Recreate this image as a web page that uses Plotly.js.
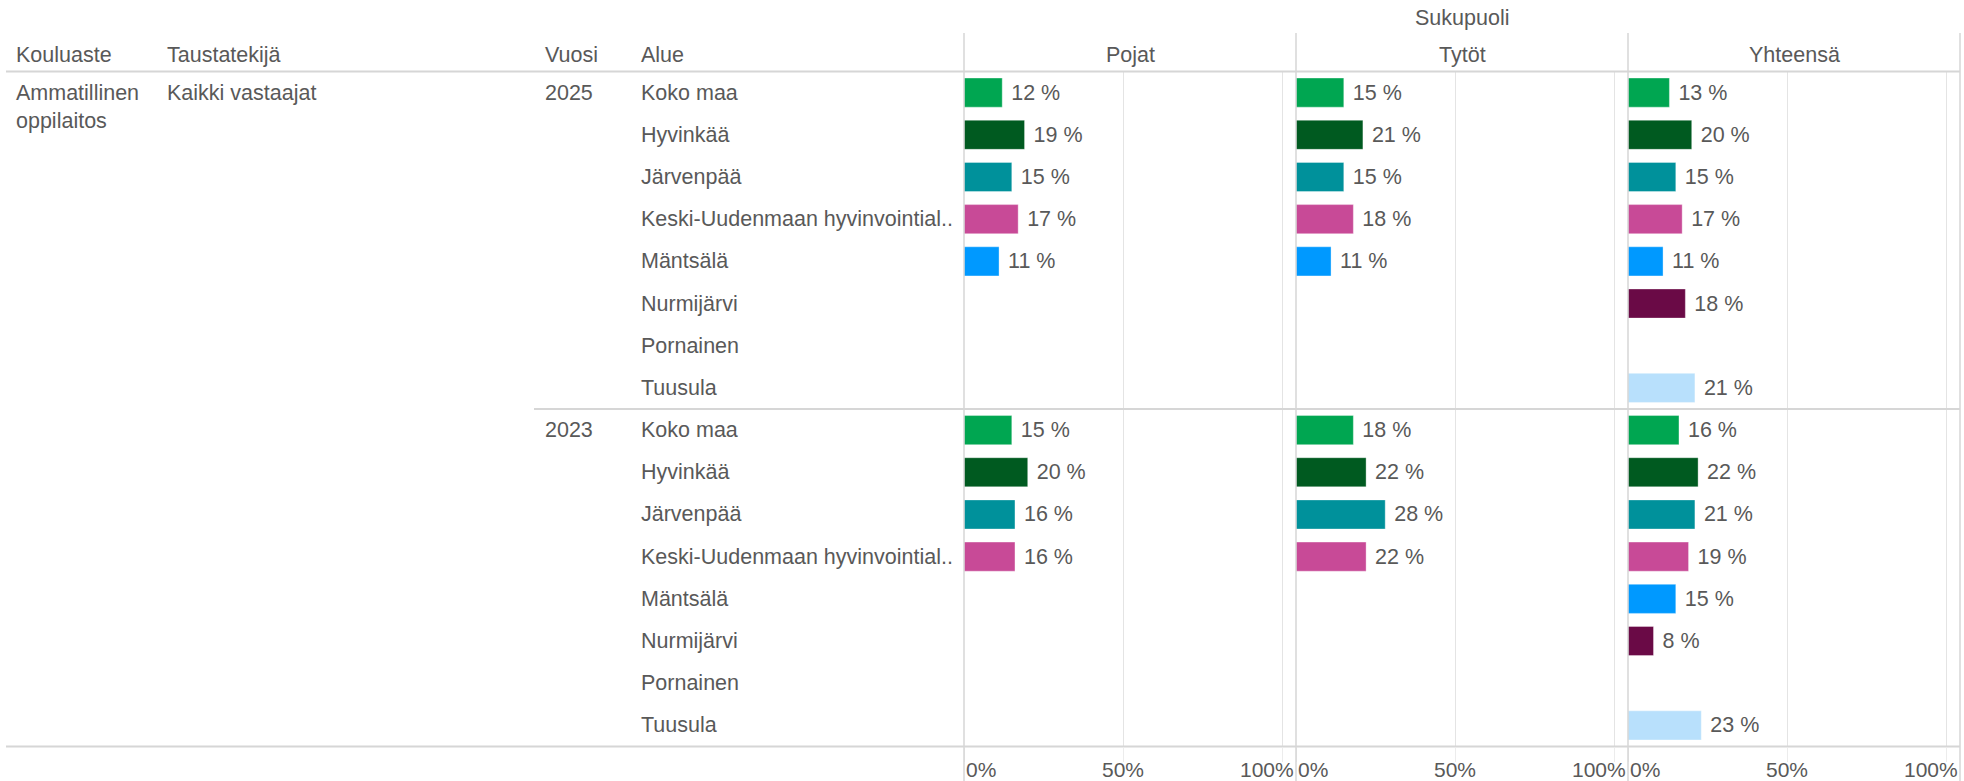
<!DOCTYPE html>
<html lang="fi">
<head>
    <meta charset="UTF-8">
    <title>Sukupuoli - Ammatillinen oppilaitos</title>
    <script src="https://cdn.plot.ly/plotly-3.0.1.min.js"></script>
    <style>
        body { margin: 0; padding: 0; background: #fff; }
        #plot { width: 1964px; height: 781px; }
    </style>
</head>
<body>
    <div id="plot"></div>
    <script>
        // Data
        const areas = ['Koko maa', 'Hyvinkää', 'Järvenpää', 'Keski-Uudenmaan hyvinvointial..',
                       'Mäntsälä', 'Nurmijärvi', 'Pornainen', 'Tuusula'];
        const years = ['2025', '2023'];
        const genders = ['Pojat', 'Tytöt', 'Yhteensä'];
        const areaColors = ['#00a651', '#005a20', '#00919b', '#c84a97',
                            '#0099ff', '#6a0a46', '#999999', '#b8e0fc'];

        const pojat2025 = [12, 19, 15, 17, 11, null, null, null];
        const tytot2025 = [15, 21, 15, 18, 11, null, null, null];
        const yht2025   = [13, 20, 15, 17, 11, 18, null, 21];
        const pojat2023 = [15, 20, 16, 16, null, null, null, null];
        const tytot2023 = [18, 22, 28, 22, null, null, null, null];
        const yht2023   = [16, 22, 21, 19, 15, 8, null, 23];

        const tickVals = [0, 0.5, 1];
        const tickLabels = ['0%', '50%', '100%'];

        // Layout helpers (pixel -> paper)
        const W = 1964, H = 781;
        const px = v => v / W;
        const py = v => 1 - v / H;
        const txt = '#595959';
        const fontFam = '"Liberation Sans", Arial, sans-serif';
        const fs = 21.5;
        const xMax = 1.042;
        const panelEdges = [964, 1296, 1628, 1960];

        const seriesByGender = [
            pojat2025.concat(pojat2023),
            tytot2025.concat(tytot2023),
            yht2025.concat(yht2023)
        ];
        const rowIdx = [];
        for (let i = 0; i < years.length * areas.length; i++) rowIdx.push(i);
        const rowColors = areaColors.concat(areaColors);

        const axisNames = ['x', 'x2', 'x3'];
        const data = seriesByGender.map((vals, g) => ({
            type: 'bar',
            orientation: 'h',
            xaxis: axisNames[g],
            yaxis: 'y',
            y: rowIdx,
            x: vals.map(v => v == null ? null : v / 100),
            width: 0.69,
            marker: { color: rowColors, line: { color: 'rgba(255,255,255,0.35)', width: 1 } },
            // nbsp keeps the small gap between bar end and label
            text: vals.map(v => v == null ? '' : '\u00a0' + v + ' %'),
            textposition: 'outside',
            constraintext: 'none',
            cliponaxis: false,
            textfont: { family: fontFam, size: fs, color: txt },
            hoverinfo: 'skip',
            showlegend: false
        }));

        const xAxisBase = (g) => ({
            domain: [px(panelEdges[g]), px(panelEdges[g + 1])],
            range: [0, xMax],
            anchor: 'y',
            tickvals: tickVals,
            showticklabels: false,
            ticks: 'outside',
            ticklen: 14,
            tickcolor: '#ececec',
            showgrid: true,
            gridcolor: '#e4e4e4',
            gridwidth: 1,
            zeroline: false,
            showline: false,
            fixedrange: true
        });

        const annotations = [];
        const ann = (o) => annotations.push(Object.assign({
            showarrow: false,
            font: { family: fontFam, size: fs, color: txt },
            yanchor: 'middle'
        }, o));

        // Header
        ann({ text: 'Sukupuoli', xref: 'paper', yref: 'paper', x: px(1462), y: py(18), xanchor: 'center' });
        genders.forEach((g, i) => ann({
            text: g, xref: 'paper', yref: 'paper',
            x: px((panelEdges[i] + panelEdges[i + 1]) / 2), y: py(55), xanchor: 'center'
        }));
        const headCols = [['Kouluaste', 14], ['Taustatekijä', 165], ['Vuosi', 543], ['Alue', 639]];
        headCols.forEach(h => ann({ text: h[0], xref: 'paper', yref: 'paper', x: px(h[1]), y: py(55), xanchor: 'left' }));

        // Row labels
        ann({ text: 'Ammatillinen<br>oppilaitos', xref: 'paper', yref: 'y', x: px(14), y: 0,
              xanchor: 'left', yshift: -14, align: 'left' });
        ann({ text: 'Kaikki vastaajat', xref: 'paper', yref: 'y', x: px(165), y: 0, xanchor: 'left' });
        years.forEach((yr, k) => {
            ann({ text: yr, xref: 'paper', yref: 'y', x: px(543), y: k * areas.length, xanchor: 'left' });
            areas.forEach((a, i) => ann({
                text: a, xref: 'paper', yref: 'y', x: px(639), y: k * areas.length + i, xanchor: 'left'
            }));
        });

        // Tick labels kept inside each pane
        axisNames.forEach(ax => {
            tickVals.forEach((t, i) => {
                const last = i === tickVals.length - 1;
                ann({
                    text: tickLabels[i], xref: ax, yref: 'paper',
                    x: last ? xMax : t, y: py(769),
                    xanchor: i === 0 ? 'left' : (last ? 'right' : 'center'),
                    font: { family: fontFam, size: 21, color: txt }
                });
            });
        });

        // Table lines
        const lineCol = '#d6d6d6';
        const shapes = [
            { type: 'line', xref: 'paper', yref: 'paper', x0: px(6), x1: px(1960), y0: py(71.5), y1: py(71.5),
              line: { color: lineCol, width: 2 } },
            { type: 'line', xref: 'paper', yref: 'paper', x0: px(6), x1: px(1960), y0: py(746.5), y1: py(746.5),
              line: { color: lineCol, width: 2 } },
            { type: 'line', xref: 'paper', yref: 'y', x0: px(534), x1: px(1960),
              y0: areas.length - 0.5, y1: areas.length - 0.5, line: { color: lineCol, width: 2 } }
        ];
        panelEdges.forEach(e => shapes.push({
            type: 'line', xref: 'paper', yref: 'paper', x0: px(e), x1: px(e), y0: py(33), y1: 0,
            line: { color: lineCol, width: 1.5 }
        }));

        const layout = {
            width: W,
            height: H,
            margin: { l: 0, r: 0, t: 0, b: 0 },
            paper_bgcolor: '#ffffff',
            plot_bgcolor: '#ffffff',
            bargap: 0,
            font: { family: fontFam, size: fs, color: txt },
            xaxis: xAxisBase(0),
            xaxis2: xAxisBase(1),
            xaxis3: xAxisBase(2),
            yaxis: {
                domain: [py(746.5), py(71.5)],
                range: [rowIdx.length - 0.5, -0.5],
                showticklabels: false,
                showgrid: false,
                zeroline: false,
                fixedrange: true
            },
            annotations: annotations,
            shapes: shapes
        };

        Plotly.newPlot('plot', data, layout, { displayModeBar: false, staticPlot: true });
    </script>
</body>
</html>
